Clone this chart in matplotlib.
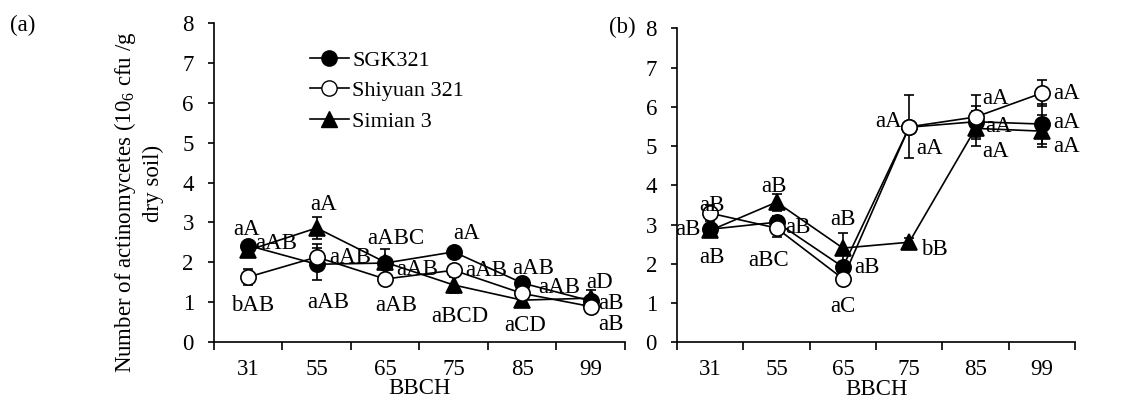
import numpy as np
import matplotlib
matplotlib.use('Agg')
import matplotlib.pyplot as plt
from matplotlib.lines import Line2D

plt.rcParams['font.family'] = ['Liberation Serif', 'DejaVu Serif']
plt.rcParams['mathtext.fontset'] = 'custom'
plt.rcParams['mathtext.rm'] = 'Liberation Serif'

#%% data
stages = ['31', '55', '65', '75', '85', '99']
names = ['SGK321', 'Shiyuan 321', 'Simian 3']

# panel (a)
a_sgk = [2.42, 1.95, 1.98, 2.26, 1.48, 1.03]
a_shiyuan = [1.63, 2.13, 1.58, 1.80, 1.22, 0.89]
a_simian = [2.30, 2.86, 2.00, 1.43, 1.05, 1.10]
a_sgk_err = [0.10, 0.40, 0.35, 0.08, 0.10, 0.08]
a_shiyuan_err = [0.20, 0.33, 0.10, 0.10, 0.08, 0.08]
a_simian_err = [0.10, 0.27, 0.10, 0.20, 0.10, 0.20]
a_sgk_lab = ['aA', 'aAB', 'aABC', 'aA', 'aAB', 'aB']
a_shiyuan_lab = ['bAB', 'aAB', 'aAB', 'aAB', 'aAB', 'aB']
a_simian_lab = ['aAB', 'aA', 'aAB', 'aBCD', 'aCD', 'aD']

# panel (b)
b_sgk = [2.88, 3.06, 1.92, 5.48, 5.62, 5.56]
b_shiyuan = [3.29, 2.91, 1.62, 5.49, 5.74, 6.35]
b_simian = [2.85, 3.57, 2.40, 2.55, 5.45, 5.38]
b_sgk_err = [0.10, 0.15, 0.10, 0.10, 0.40, 0.50]
b_shiyuan_err = [0.20, 0.23, 0.08, 0.80, 0.55, 0.33]
b_simian_err = [0.10, 0.22, 0.38, 0.10, 0.45, 0.40]
b_sgk_lab = ['aB', 'aB', 'aB', 'aA', 'aA', 'aA']
b_shiyuan_lab = ['aB', 'aBC', 'aC', 'aA', 'aA', 'aA']
b_simian_lab = ['aB', 'aB', 'aB', 'bB', 'aA', 'aA']

#%% label offsets (pixels)
a_sgk_off = [(-2, 16), (12, -38), (11, 25), (13, 18), (11, 14), (20, -3)]
a_shiyuan_off = [(4, -28), (34, 0), (11, -26), (33, 0), (37, 6), (20, -18)]
a_simian_off = [(28, 7), (7, 23), (32, -7), (6, -32), (3, -25), (9, 16)]
b_sgk_off = [(-22, 0), (21, -5), (24, -1), (20, -21), (23, -5), (25, 2)]
b_shiyuan_off = [(2, 8), (-8, -32), (0, -28), (-21, 5), (20, 19), (25, 0)]
b_simian_off = [(2, -27), (-3, 16), (0, 29), (25, -7), (20, -23), (25, -15)]

styles = [dict(marker='o', mfc='black'),
          dict(marker='o', mfc='white'),
          dict(marker='^', mfc='black')]
zorders = [3, 4, 2]
fs = 16.5

fig = plt.figure(figsize=(11.32, 4.01), dpi=100)
ax_a = fig.add_axes([0.1890, 0.1471, 0.3631, 0.7955])
ax_b = fig.add_axes([0.5981, 0.1464, 0.3516, 0.7830])

x = np.arange(len(stages))


def draw_panel(ax, vals, errs, labs, offs):
    for i in range(3):
        ax.errorbar(x, vals[i], yerr=errs[i], color='black', lw=1.2,
                    elinewidth=1.2, capsize=3.5, capthick=1.2,
                    ms=11, mec='black', mew=1.2, zorder=zorders[i], **styles[i])
        for j in range(len(stages)):
            ax.annotate(labs[i][j], (x[j], vals[i][j]), xytext=offs[i][j],
                        textcoords='offset pixels', ha='center', va='center',
                        fontsize=fs, zorder=6)
    ax.set_xlim(-0.5, 5.5)
    ax.set_ylim(0, 8)
    ax.set_yticks(range(0, 9))
    ax.set_xticks(x)
    ax.set_xticklabels(stages)
    ax.set_xticks(np.arange(-0.5, 6, 1), minor=True)
    ax.tick_params(axis='x', which='major', length=0, pad=12, labelsize=fs)
    ax.tick_params(axis='x', which='minor', length=6, width=1.2, direction='out')
    ax.tick_params(axis='y', length=4.5, width=1.2, pad=10, labelsize=fs)
    for s in ['top', 'right']:
        ax.spines[s].set_visible(False)
    for s in ['left', 'bottom']:
        ax.spines[s].set_linewidth(1.2)
    ax.set_xlabel('BBCH', fontsize=fs, labelpad=-1)
    ax.patch.set_alpha(0.0)


draw_panel(ax_a, [a_sgk, a_shiyuan, a_simian],
           [a_sgk_err, a_shiyuan_err, a_simian_err],
           [a_sgk_lab, a_shiyuan_lab, a_simian_lab],
           [a_sgk_off, a_shiyuan_off, a_simian_off])
draw_panel(ax_b, [b_sgk, b_shiyuan, b_simian],
           [b_sgk_err, b_shiyuan_err, b_simian_err],
           [b_sgk_lab, b_shiyuan_lab, b_simian_lab],
           [b_sgk_off, b_shiyuan_off, b_simian_off])

# legend
handles = [Line2D([], [], color='black', lw=1.2, ms=11, mec='black', **styles[i])
           for i in range(3)]
fig.legend(handles, names, loc='upper left',
           bbox_to_anchor=(310 / 1132, 1 - 50 / 401), frameon=False,
           fontsize=16, handlelength=1.75, handletextpad=0.15,
           labelspacing=0.45, borderpad=0, borderaxespad=0)

# y label
fig.text(125 / 1132, 1 - 202 / 401, 'Number of actinomycetes (10$_{6}$ cfu /g',
         rotation=90, ha='center', va='center', fontsize=fs)
fig.text(153 / 1132, 1 - 183 / 401, 'dry soil)',
         rotation=90, ha='center', va='center', fontsize=fs)

fig.text(23 / 1132, 1 - 25 / 401, '(a)', ha='center', va='center', fontsize=fs)
fig.text(622 / 1132, 1 - 27 / 401, '(b)', ha='center', va='center', fontsize=fs)

fig.savefig('out.png', dpi=100)
